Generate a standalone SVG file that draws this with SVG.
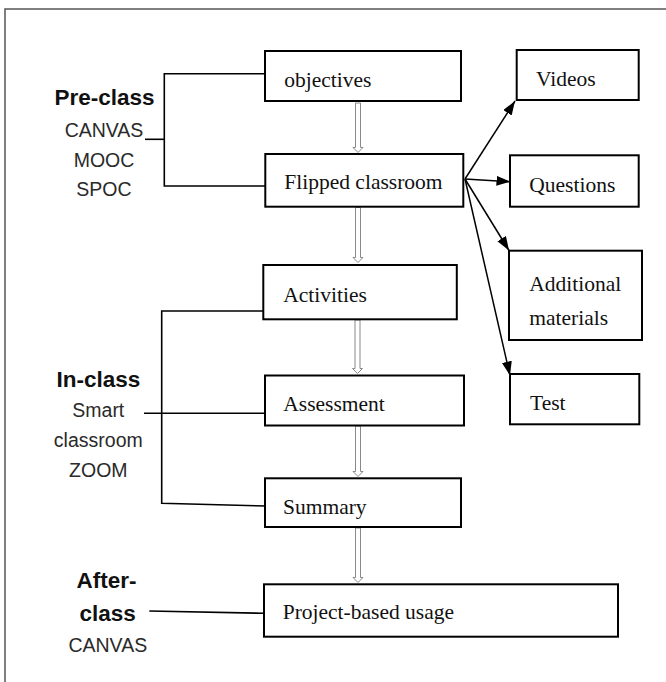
<svg xmlns="http://www.w3.org/2000/svg" width="666" height="682" viewBox="0 0 666 682">
<defs>
<marker id="ah" markerUnits="userSpaceOnUse" markerWidth="15" markerHeight="11" refX="14" refY="5" orient="auto">
<path d="M0,0 L14,5 L0,10 z" fill="#000"/>
</marker>
<style>
.box{fill:#fff;stroke:#000;stroke-width:2}
.t{font-family:"Liberation Serif","Times New Roman",serif;font-size:21.5px;fill:#111}
.h{font-family:"Liberation Sans",Arial,sans-serif;font-size:22.5px;font-weight:bold;fill:#111;text-anchor:middle}
.s{font-family:"Liberation Sans",Arial,sans-serif;font-size:19.5px;fill:#2a2a2a;text-anchor:middle}
.ln{fill:none;stroke:#000;stroke-width:1.6}
.ha{fill:#fff;stroke:#8a8a8a;stroke-width:1}
.ar{fill:none;stroke:#000;stroke-width:1.5;marker-end:url(#ah)}
</style>
</defs>
<rect x="5" y="9" width="700" height="700" fill="#fff" stroke="#555" stroke-width="1.5"/>

<g id="connectors">
<polyline class="ln" points="266,73.7 164.3,73.7 164.3,186 266,186"/>
<line class="ln" x1="145" y1="139.3" x2="164.3" y2="139.3"/>
<polyline class="ln" points="263,311 161.7,311 161.7,503.3 266,506"/>
<line class="ln" x1="144" y1="413.3" x2="266" y2="413.3"/>
<line class="ln" x1="149.3" y1="611" x2="264" y2="613.3"/>
<path class="ha" d="M355.5,103 V147.5 H353 L358,152.5 L363,147.5 H360.5 V103 Z"/>
<path class="ha" d="M355.5,207.5 V257.5 H353 L358,262.5 L363,257.5 H360.5 V207.5 Z"/>
<path class="ha" d="M355,320 V368.5 H352.5 L357.5,373.5 L362.5,368.5 H360 V320 Z"/>
<path class="ha" d="M355.5,426 V471.5 H353 L358,476.5 L363,471.5 H360.5 V426 Z"/>
<path class="ha" d="M355.5,528 V577.5 H353 L358,582.5 L363,577.5 H360.5 V528 Z"/>
<line class="ar" x1="465" y1="179" x2="515" y2="101"/>
<line class="ar" x1="465" y1="179" x2="510.5" y2="181.7"/>
<line class="ar" x1="465" y1="179" x2="509" y2="250.5"/>
<line class="ar" x1="465" y1="179" x2="510" y2="375.5"/>
</g>

<g id="pre-class">
<text class="h" x="104.5" y="105">Pre-class</text>
<text class="s" x="104" y="136.7">CANVAS</text>
<text class="s" x="104" y="166.7">MOOC</text>
<text class="s" x="104" y="196">SPOC</text>
</g>
<g id="in-class">
<text class="h" x="98.3" y="386.7">In-class</text>
<text class="s" x="98.3" y="417.3">Smart</text>
<text class="s" x="98.3" y="446.7">classroom</text>
<text class="s" x="98.3" y="476.7">ZOOM</text>
</g>
<g id="after-class">
<text class="h" x="106.5" y="587.7">After-</text>
<text class="h" x="107.7" y="620.7">class</text>
<text class="s" x="107.8" y="652.3">CANVAS</text>
</g>

<g id="objectives"><rect class="box" x="265" y="51" width="196" height="50"/><text class="t" x="284.3" y="86.7">objectives</text></g>
<g id="flipped"><rect class="box" x="265.3" y="154" width="198" height="52.7"/><text class="t" x="284.3" y="189.3">Flipped classroom</text></g>
<g id="activities"><rect class="box" x="263.3" y="265" width="193.5" height="54.3"/><text class="t" x="283.3" y="301.7">Activities</text></g>
<g id="assessment"><rect class="box" x="265" y="375.5" width="199" height="50"/><text class="t" x="283.3" y="410.7">Assessment</text></g>
<g id="summary"><rect class="box" x="265" y="478.3" width="196" height="48.7"/><text class="t" x="283" y="514">Summary</text></g>
<g id="project"><rect class="box" x="264" y="584.3" width="354" height="52.4"/><text class="t" x="282.7" y="619.3">Project-based usage</text></g>
<g id="videos"><rect class="box" x="516.7" y="50" width="122" height="50"/><text class="t" x="536" y="85.7">Videos</text></g>
<g id="questions"><rect class="box" x="510" y="155.3" width="128.7" height="51.4"/><text class="t" x="529.3" y="191.7">Questions</text></g>
<g id="additional"><rect class="box" x="509" y="250.7" width="133" height="89.3"/><text class="t" x="529.3" y="291">Additional</text><text class="t" x="529.3" y="324.5">materials</text></g>
<g id="test"><rect class="box" x="510" y="374" width="129.3" height="50.3"/><text class="t" x="530" y="410">Test</text></g>
</svg>
